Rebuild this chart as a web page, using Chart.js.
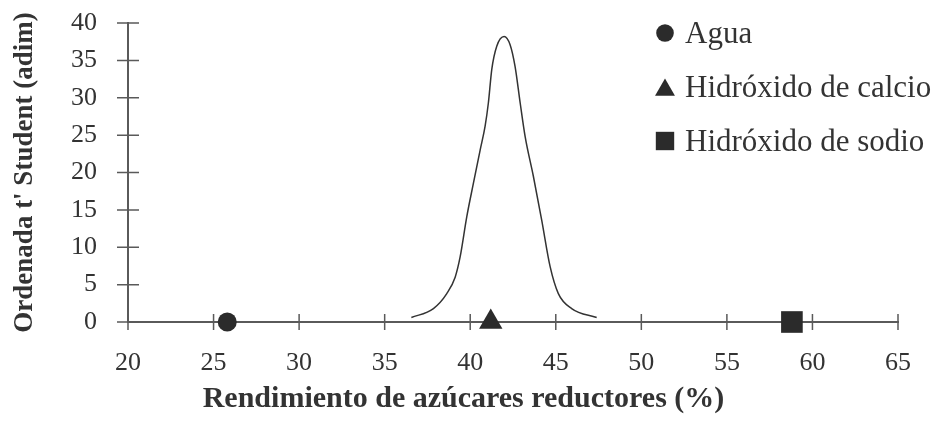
<!DOCTYPE html>
<html>
<head>
<meta charset="utf-8">
<script src="https://cdn.jsdelivr.net/npm/chart.js@4.4.0/dist/chart.umd.min.js"></script>
<style>
  html, body { margin: 0; padding: 0; background: #fff; }
  #wrap { width: 937px; height: 422px; position: relative; }
</style>
</head>
<body>
<div id="wrap"><canvas id="chart"></canvas></div>
<script>
// --- DATOS ---
const seriesNames = ['Agua', 'Hidróxido de calcio', 'Hidróxido de sodio'];
const seriesStyles = ['circle', 'triangle', 'rect'];
const markerX = [25.8, 41.2, 58.8];
const markerY = [0, 0, 0];

// curva t' Student
const curveX = [36.56, 37.85, 38.63, 39.12, 39.41, 39.80, 40.19, 40.58, 40.87, 41.06, 41.26, 41.55,
                41.98, 42.33, 42.62, 42.92, 43.21, 43.69, 44.18, 44.67, 45.15, 45.93, 47.39];
const curveY = [0.6, 1.8, 3.8, 6.0, 8.7, 14.1, 18.6, 23.0, 26.2, 29.3, 33.8, 36.9,
                38.2, 37.1, 34.2, 29.3, 24.8, 19.5, 13.6, 7.4, 3.8, 1.8, 0.6];

const xMin = 20, xMax = 65, xStep = 5;
const yMin = 0, yMax = 40, yStep = 5;

const xTitle = 'Rendimiento de azúcares reductores (%)';
const yTitle = "Ordenada t' Student (adim)";

// --- ESTILO ---
const serif = '"Liberation Serif", "Times New Roman", serif';
const textColor = '#333';
const axisColor = '#5a5a5a';
const markColor = '#2b2b2b';
const pointRadii = [9.5, 13.5, 15.3];
const legendRadii = [8.8, 11.5, 13];

// ticks que cruzan el eje (como en el original)
const crossTicks = {
  id: 'crossTicks',
  beforeDatasetsDraw(chart) {
    const { ctx, chartArea, scales: { x, y } } = chart;
    ctx.save();
    ctx.strokeStyle = axisColor;
    ctx.lineWidth = 1.5;
    ctx.beginPath();
    x.ticks.forEach(t => {
      const px = x.getPixelForValue(t.value);
      ctx.moveTo(px, chartArea.bottom - 8);
      ctx.lineTo(px, chartArea.bottom + 8);
    });
    y.ticks.forEach(t => {
      const py = y.getPixelForValue(t.value);
      ctx.moveTo(chartArea.left - 11, py);
      ctx.lineTo(chartArea.left + 11, py);
    });
    ctx.stroke();
    ctx.restore();
  }
};

// leyenda dibujada a mano (tamaños de marcador distintos por serie)
const legendBox = {
  id: 'legendBox',
  afterDraw(chart) {
    const ctx = chart.ctx;
    ctx.save();
    ctx.font = '31px ' + serif;
    ctx.textBaseline = 'alphabetic';
    seriesNames.forEach((name, i) => {
      const base = 43 + i * 54;
      const r = legendRadii[i];
      let cy = base - 10;
      if (seriesStyles[i] === 'triangle') cy += r / 4;
      ctx.fillStyle = markColor;
      Chart.helpers.drawPoint(ctx, { pointStyle: seriesStyles[i], radius: r, rotation: 0, borderWidth: 0 }, 665, cy);
      ctx.fillStyle = textColor;
      ctx.fillText(name, 685, base);
    });
    ctx.restore();
  }
};

const datasets = [
  ...seriesNames.map((name, i) => ({
    label: name,
    type: 'scatter',
    data: [{ x: markerX[i], y: markerY[i] }],
    pointStyle: seriesStyles[i],
    pointRadius: pointRadii[i],
    pointHoverRadius: pointRadii[i],
    backgroundColor: markColor,
    borderColor: markColor,
    borderWidth: 0,
    clip: false,
    order: 0
  })),
  {
    label: 'curva',
    type: 'line',
    data: curveX.map((x, i) => ({ x, y: curveY[i] })),
    borderColor: '#333',
    borderWidth: 1.5,
    pointRadius: 0,
    fill: false,
    cubicInterpolationMode: 'monotone',
    clip: false,
    order: 1
  }
];

new Chart(document.getElementById('chart'), {
  type: 'scatter',
  data: { datasets },
  options: {
    responsive: true,
    maintainAspectRatio: false,
    animation: false,
    devicePixelRatio: 1,
    layout: { padding: { top: 23, right: 10, left: 0, bottom: 0 } },
    plugins: {
      legend: { display: false },
      tooltip: { enabled: false },
      title: {
        display: true,
        position: 'bottom',
        text: xTitle,
        color: textColor,
        font: { family: serif, size: 30, weight: 'bold' },
        padding: { top: 0, bottom: 5 }
      }
    },
    scales: {
      x: {
        type: 'linear',
        min: xMin, max: xMax,
        grid: { display: false },
        border: { display: true, color: axisColor, width: 2 },
        ticks: { stepSize: xStep, color: textColor, padding: 18, font: { family: serif, size: 26 } },
        afterFit: s => { s.height = 59; s.paddingLeft = 0; s.paddingRight = 39; }
      },
      y: {
        min: yMin, max: yMax,
        grid: { display: false },
        border: { display: true, color: axisColor, width: 2 },
        ticks: { stepSize: yStep, color: textColor, padding: 23, font: { family: serif, size: 26 } },
        title: {
          display: true,
          text: yTitle,
          color: textColor,
          font: { family: serif, size: 27, weight: 'bold' },
          padding: { top: 9, bottom: 0 }
        },
        afterFit: s => { s.width = 128; s.paddingTop = 0; s.paddingBottom = 0; }
      }
    }
  },
  plugins: [crossTicks, legendBox]
});
</script>
</body>
</html>
